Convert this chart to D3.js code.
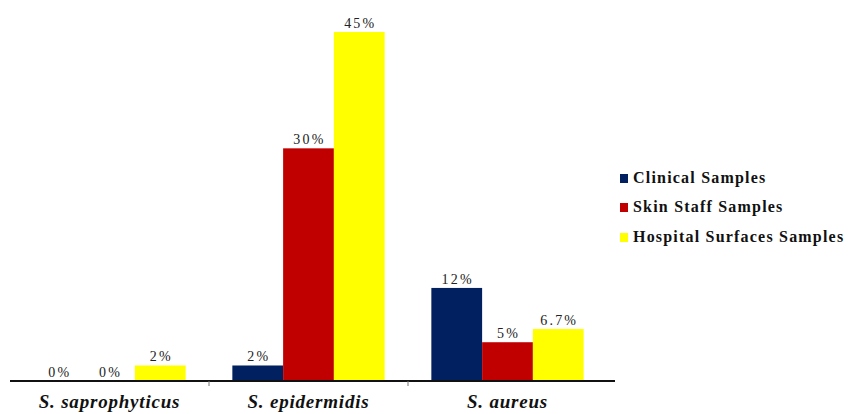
<!DOCTYPE html>
<html>
<head>
<meta charset="utf-8">
<script src="https://cdn.jsdelivr.net/npm/d3@7"></script>
<style>
  html, body { margin: 0; padding: 0; background: #fff; }
  svg { display: block; }
</style>
</head>
<body>
<svg id="chart" width="851" height="414"></svg>
<script>
// Species groups along the x axis
const categories = ["S. saprophyticus", "S. epidermidis", "S. aureus"];
// Sample sources (one bar per source in each group)
const seriesNames = ["Clinical Samples", "Skin Staff Samples", "Hospital Surfaces Samples"];
const seriesColors = ["#002060", "#C00000", "#FFFF00"];
// Percentages per source, in category order
const clinical = [0, 2, 12];
const skinStaff = [0, 30, 5];
const hospitalSurfaces = [2, 45, 6.7];
// Printed value labels, in category order
const clinicalLabels = ["0%", "2%", "12%"];
const skinStaffLabels = ["0%", "30%", "5%"];
const hospitalLabels = ["2%", "45%", "6.7%"];

const seriesValues = [clinical, skinStaff, hospitalSurfaces];
const seriesLabels = [clinicalLabels, skinStaffLabels, hospitalLabels];

const svg = d3.select("#chart");
const plot = { left: 10, right: 607, top: 32, bottom: 381 };

const x0 = d3.scaleBand().domain(categories).range([plot.left, plot.right]).padding(0);
const x1 = d3.scaleBand().domain(d3.range(seriesNames.length))
  .range([0, x0.bandwidth()]).paddingInner(0).paddingOuter(0.46);
const y = d3.scaleLinear().domain([0, 45]).range([plot.bottom, plot.top]);

const rows = categories.map((c, i) => ({
  cat: c,
  bars: seriesNames.map((s, j) => ({ s: j, v: seriesValues[j][i], label: seriesLabels[j][i] }))
}));

const groups = svg.selectAll("g.grp").data(rows).join("g")
  .attr("class", "grp")
  .attr("transform", d => `translate(${x0(d.cat)},0)`);

groups.selectAll("rect").data(d => d.bars).join("rect")
  .attr("x", d => x1(d.s))
  .attr("width", x1.bandwidth())
  .attr("y", d => y(d.v))
  .attr("height", d => plot.bottom - y(d.v))
  .attr("fill", d => seriesColors[d.s]);

groups.selectAll("text.val").data(d => d.bars).join("text")
  .attr("class", "val")
  .attr("x", d => x1(d.s) + x1.bandwidth() / 2 + 1)
  .attr("y", d => y(d.v) - 4)
  .attr("text-anchor", "middle")
  .attr("font-family", "Liberation Serif, serif")
  .attr("font-size", 14)
  .attr("letter-spacing", 2.2)
  .attr("fill", "#222")
  .text(d => d.label);

// x axis: baseline with ticks between groups
const axis = d3.axisBottom(x0).tickSize(0).tickFormat("");
const gAxis = svg.append("g").attr("transform", `translate(0,${plot.bottom})`).call(axis);
gAxis.select(".domain").attr("stroke", "#111").attr("stroke-width", 2)
  .attr("d", `M${plot.left},0H${plot.right + 8}`);
gAxis.selectAll(".tick").remove();
gAxis.selectAll("line.sep").data(categories.slice(1)).join("line")
  .attr("class", "sep")
  .attr("x1", d => x0(d)).attr("x2", d => x0(d))
  .attr("y1", 0).attr("y2", 5)
  .attr("stroke", "#777").attr("stroke-width", 1);

svg.selectAll("text.cat").data(categories).join("text")
  .attr("class", "cat")
  .attr("x", d => x0(d) + x0.bandwidth() / 2)
  .attr("y", 408)
  .attr("text-anchor", "middle")
  .attr("font-family", "Liberation Serif, serif")
  .attr("font-weight", "bold")
  .attr("font-style", "italic")
  .attr("font-size", 19)
  .attr("letter-spacing", 0.8)
  .attr("fill", "#111")
  .text(d => d);

// legend
const legend = svg.append("g").attr("transform", "translate(620,0)");
const legendY = [178, 207, 237];
seriesNames.forEach((name, i) => {
  legend.append("rect")
    .attr("x", 0).attr("y", legendY[i] - 4)
    .attr("width", 8).attr("height", 9)
    .attr("fill", seriesColors[i]);
  legend.append("text")
    .attr("x", 13).attr("y", legendY[i] + 5)
    .attr("font-family", "Liberation Serif, serif")
    .attr("font-weight", "bold")
    .attr("font-size", 16)
    .attr("letter-spacing", 1.2)
    .attr("fill", "#111")
    .text(name);
});
</script>
</body>
</html>
